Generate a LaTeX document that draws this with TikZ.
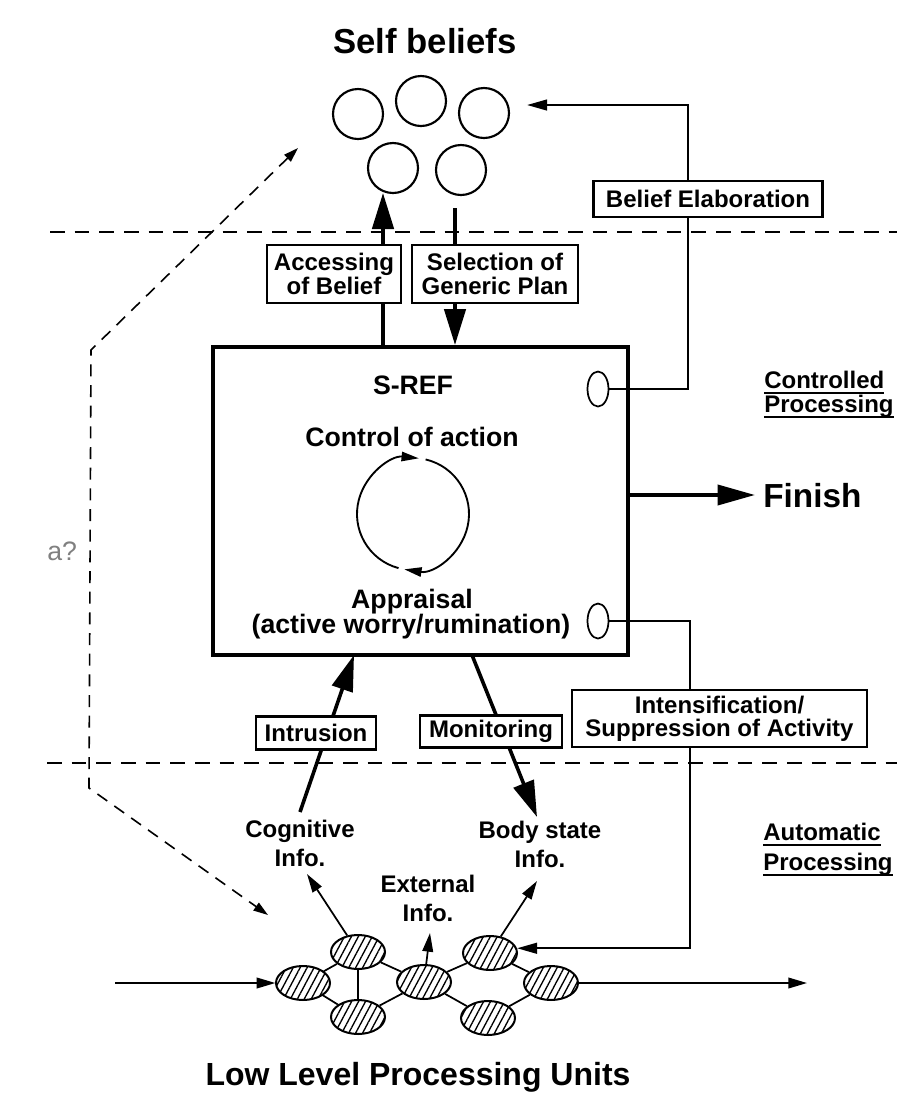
\documentclass[tikz,border=0pt]{standalone}
\usepackage{fontspec}
\setmainfont{Liberation Sans}
\usetikzlibrary{arrows.meta,shapes.geometric,patterns.meta}
\newcommand\myul[1]{\setbox0\hbox{#1}\leavevmode\rlap{\rule[-4.6pt]{\wd0}{1.3pt}}\box0}
\begin{document}
\begin{tikzpicture}[x=0.75pt,y=-0.75pt,
  lab/.style={font=\fontsize{18}{17.5}\selectfont\bfseries, align=center},
  labbox/.style={lab, draw, line width=1.7pt, fill=white, inner sep=0pt},
  boxtxt/.style={font=\fontsize{20}{22}\selectfont\bfseries, anchor=base, inner sep=0pt},
  txt/.style={font=\fontsize{18}{18}\selectfont\bfseries, anchor=base, inner sep=0pt},
  belief/.style={circle, draw, line width=1.6pt, minimum size=37.5pt, inner sep=0pt},
  lpu/.style={ellipse, draw, line width=1.5pt, minimum width=40.5pt, minimum height=25.5pt, inner sep=0pt,
     pattern={Lines[angle=62,distance=4.6pt,line width=1pt]}},
  gate/.style={ellipse, draw, line width=1.3pt, minimum width=15.75pt, minimum height=26.25pt, inner sep=0pt, fill=white},
  divider/.style={line width=1.8pt, dash pattern=on 11pt off 7.5pt},
  bigarr/.style={line width=2.7pt, -{Triangle[length=27pt,width=16pt]}},
  medarr/.style={line width=1.6pt, -{Triangle[length=15pt,width=8pt]}},
  thinarr/.style={line width=1.3pt, -{Triangle[length=14pt,width=8pt]}},
  cyc/.style={line width=1.4pt, -{Triangle[length=13pt,width=7pt]}},
  qdash/.style={line width=1.2pt, dash pattern=on 9pt off 6.5pt}
]
\fill[white] (0,0) rectangle (897,1101);
\useasboundingbox (0,0) rectangle (897,1101);

% title and self beliefs
\node[font=\fontsize{26}{28}\selectfont\bfseries, anchor=base, inner sep=0pt] (title) at (425,53) {Self beliefs};
\node[belief] (c1) at (358,114) {};
\node[belief] (c2) at (421,101) {};
\node[belief] (c3) at (484,113) {};
\node[belief] (c4) at (393,168) {};
\node[belief] (c5) at (461,170) {};

% dividers
\coordinate (divTL) at (50,232);
\coordinate (divTR) at (897,232);
\coordinate (divBL) at (47,763);
\coordinate (divBR) at (897,763);
\draw[divider] (divTL) -- (divTR);
\draw[divider] (divBL) -- (divBR);

% main box
\node[draw, line width=3pt, minimum width=311.25pt, minimum height=231pt, inner sep=0pt] (sref) at (420.5,501) {};
\node[boxtxt] (t1) at (413,394) {S-REF};
\node[boxtxt] (t2) at (412,446) {Control of action};
\node[boxtxt] (t3) at (412,608) {Appraisal};
\node[boxtxt] (t4) at (411,633) {(active worry/rumination)};
\node[gate] (o1) at (598,389) {};
\node[gate] (o2) at (598,621) {};

% cycle
\coordinate (cyc) at (413,514);
\draw[cyc] (cyc) ++(255:42pt) arc[start angle=255, end angle=84, radius=42pt];
\draw[cyc] (cyc) ++(77:42pt) arc[start angle=77, end angle=-99, radius=42pt];

% accessing / selection
\coordinate (accTop) at (383,193);
\coordinate (selTop) at (455,208);
\draw[bigarr] (sref.north -| accTop) -- (accTop);
\draw[bigarr] (selTop) -- (sref.north -| selTop);

% belief elaboration
\coordinate (beX) at (688,0);
\coordinate (beTip) at (527,105);
\draw[medarr] (o1.east) -- (o1.east -| beX) -- (beX |- beTip) -- (beTip);

% finish
\node[font=\fontsize{25}{28}\selectfont\bfseries, anchor=base west, inner sep=0pt] (fin) at (763,507) {Finish};
\coordinate (finTip) at (755,495);
\draw[line width=2.8pt, -{Triangle[length=28pt,width=15pt]}] (sref.east |- finTip) -- (finTip);

% processing labels
\node[txt, anchor=base west] (ctl1) at (764,388) {\myul{Controlled}};
\node[txt, anchor=base west] (ctl2) at (764,412) {\myul{Processing}};
\node[txt, anchor=base west] (aut1) at (763,840) {\myul{Automatic}};
\node[txt, anchor=base west] (aut2) at (763,870) {\myul{Processing}};

% low level units
\node[lpu] (e1) at (303,983) {};
\node[lpu] (e2) at (358,952) {};
\node[lpu] (e3) at (358,1017) {};
\node[lpu] (e4) at (424,982) {};
\node[lpu] (e5) at (490,953) {};
\node[lpu] (e6) at (488,1018) {};
\node[lpu] (e7) at (551,983) {};
\draw[line width=1.3pt] (e1) -- (e2) (e1) -- (e3) (e2) -- (e3) (e2) -- (e4) (e3) -- (e4)
  (e4) -- (e5) (e4) -- (e6) (e5) -- (e7) (e6) -- (e7);
\coordinate (inL) at (115,983);
\coordinate (outR) at (807,983);
\draw[thinarr] (inL) -- (e1.west);
\draw[thinarr] (e7.east) -- (outR);

% info texts
\node[txt] (cog1) at (300,837) {Cognitive};
\node[txt] (cog2) at (300,866) {Info.};
\node[txt] (ext1) at (428,892) {External};
\node[txt] (ext2) at (428,921) {Info.};
\node[txt] (body1) at (540,838) {Body state};
\node[txt] (body2) at (540,867) {Info.};
\coordinate (cogTip) at (307,874);
\coordinate (extTip) at (430,933);
\coordinate (bodyTip) at (537,881);
\draw[thinarr] (e2) -- (cogTip);
\draw[thinarr] (e4) -- (extTip);
\draw[thinarr] (e5) -- (bodyTip);

% intrusion / monitoring
\coordinate (intrTail) at (300,812);
\coordinate (intrTip) at (354,655);
\coordinate (monTail) at (472,655);
\coordinate (monTip) at (537,817);
\draw[bigarr] (intrTail) -- (intrTip);
\draw[bigarr] (monTail) -- (monTip);

% intensification
\coordinate (inX) at (690,0);
\draw[medarr] (o2.east) -- (o2.east -| inX) -- (inX |- e5.10) -- (e5.10);

% dashed question path
\coordinate (dTop) at (298,148);
\coordinate (dBot) at (268,915);
\coordinate (dC1) at (91,350);
\coordinate (dC2) at (89,788);
\draw[qdash, {Triangle[length=11pt,width=7pt]}-{Triangle[length=11pt,width=7pt]}] (dTop) -- (dC1) -- (dC2) -- (dBot);
\node[font=\fontsize{20}{20}\selectfont, text=black!50, anchor=base west, inner sep=0pt] (aq) at (47,560) {a?};

% label boxes
\node[labbox, minimum width=100.5pt, minimum height=43.5pt] (acc) at (334,274) {Accessing\\of Belief};
\node[labbox, minimum width=124.5pt, minimum height=43.5pt] (sel) at (495,274) {Selection of\\Generic Plan};
\node[labbox, minimum width=171.75pt, minimum height=27pt] (be) at (708,199) {Belief Elaboration};
\node[labbox, minimum width=221.25pt, minimum height=42.75pt] (ins) at (719.5,718.5) {Intensification/\\Suppression of Activity};
\node[labbox, minimum width=90pt, minimum height=24.75pt] (intr) at (316,733) {Intrusion};
\node[labbox, minimum width=106.5pt, minimum height=24pt] (mon) at (491,731.5) {Monitoring};

% bottom title
\node[font=\fontsize{24}{26}\selectfont\bfseries, anchor=base, inner sep=0pt] (low) at (418,1085) {Low Level Processing Units};
\end{tikzpicture}
\end{document}
